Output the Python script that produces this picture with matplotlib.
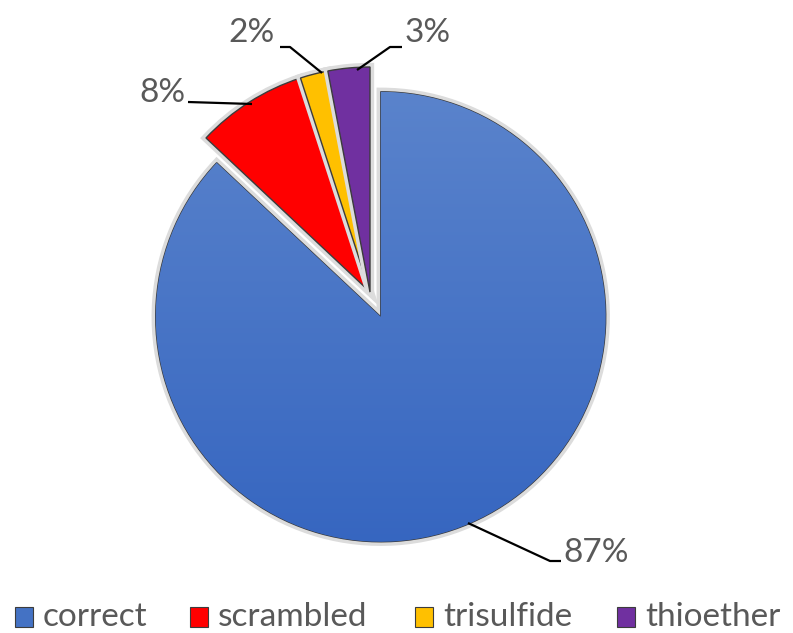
import numpy as np
import matplotlib
matplotlib.use('Agg')
import matplotlib.pyplot as plt
import matplotlib.patheffects as pe
from matplotlib.patches import Rectangle

plt.rcParams['font.family'] = ['Lato', 'DejaVu Sans']

labels = ['correct', 'scrambled', 'trisulfide', 'thioether']
shares = [87, 8, 2, 3]
colors = ['#4472C4', '#FF0000', '#FFC000', '#7030A0']

W, H = 793, 633
fig = plt.figure(figsize=(W / 100, H / 100), dpi=100)
ax = fig.add_axes([0, 0, 1, 1])

# the axes work in pixels, y measured upwards; explode is in data units here
center = (370, H - 292)
radius = 225
explode = [27, 0, 0, 0]
wedges, _ = ax.pie(shares, colors=colors, startangle=90, counterclock=False,
                   explode=explode, center=center, radius=radius,
                   wedgeprops=dict(edgecolor='#3c3c3c', linewidth=1.0),
                   frame=True)
ax.set_xlim(0, W)
ax.set_ylim(0, H)
ax.set_aspect('equal')
ax.axis('off')
for w in wedges:
    w.set_path_effects([pe.Stroke(linewidth=6, foreground='#dcdcdc'), pe.Normal()])

# soft top-to-bottom shading on the big slice
blue = wedges[0]
grad = np.linspace(0, 1, 256)[:, None]
cmap = matplotlib.colors.LinearSegmentedColormap.from_list('shade', ['#5b84cc', '#3565c0'])
img = ax.imshow(grad, cmap=cmap, aspect='auto', origin='upper',
                extent=(140, 620, H - 560, H - 80), zorder=blue.get_zorder() + 0.1)
img.set_clip_path(blue)
ax.set_xlim(0, W)
ax.set_ylim(0, H)

# percentage labels with leader lines (pixel coords, y from top; text pos = centre x, baseline)
pct = ['%d%%' % s for s in shares]
label_pos = [(596, 562), (162, 102), (252, 42), (428, 42)]
leader_pts = [
    [(468, 523), (550, 561), (561, 561)],
    [(252, 104), (188, 102)],
    [(322, 73), (290, 47), (280, 47)],
    [(357, 70), (390, 47), (402, 47)],
]
for txt, pos, pts in zip(pct, label_pos, leader_pts):
    xs = [p[0] for p in pts]
    ys = [H - p[1] for p in pts]
    ax.plot(xs, ys, color='black', lw=1.6, solid_capstyle='butt', zorder=5)
    ax.text(pos[0], H - pos[1], txt, fontsize=24, color='#595959',
            ha='center', va='baseline')

# legend row along the bottom
legend_x = [15, 190, 415, 617]
for x, c, name in zip(legend_x, colors, labels):
    ax.add_patch(Rectangle((x, H - 627), 18, 20, facecolor=c,
                           edgecolor='#3c3c3c', linewidth=0.8, clip_on=False))
    ax.text(x + 28, H - 626, name, fontsize=24, color='#595959',
            ha='left', va='baseline')

fig.savefig('out.png', dpi=100)
